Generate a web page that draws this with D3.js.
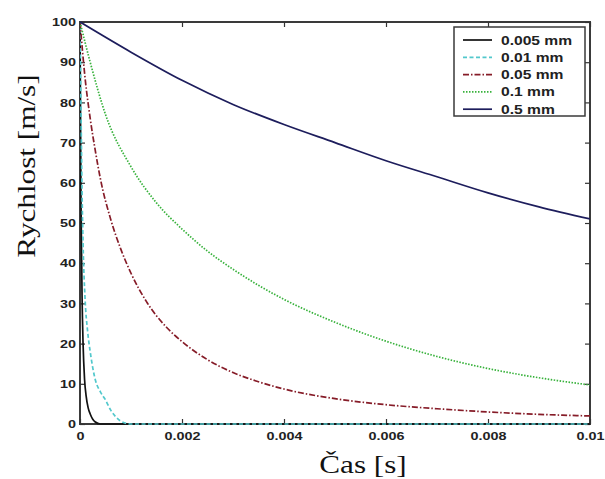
<!DOCTYPE html>
<html>
<head>
<meta charset="utf-8">
<script src="https://cdn.jsdelivr.net/npm/d3@7"></script>
<style>
  body { margin: 0; background: #fff; }
</style>
</head>
<body>
<div class="chart"></div>
<script>
// values
const seriesNames = ["0.005 mm", "0.01 mm", "0.05 mm", "0.1 mm", "0.5 mm"];

const tBlack = [0, 0.00002, 0.00004, 0.00006, 0.00009, 0.00012, 0.00016, 0.0002, 0.00025, 0.0003, 0.0004, 0.01];
const vBlack = [100, 55, 32, 20, 11, 7, 4, 2.5, 1.2, 0.5, 0, 0];

const tCyan = [0, 0.00002, 0.00004, 0.00006, 0.0001, 0.00015, 0.0002, 0.0003, 0.0004, 0.0005, 0.0006, 0.0007, 0.0008, 0.001, 0.01];
const vCyan = [100, 78, 58, 45, 31, 23, 18, 11, 8, 6, 3.5, 1.8, 0.7, 0, 0];

const tRed = [0, 0.0001, 0.0002, 0.0003, 0.0004, 0.0006, 0.0008, 0.001, 0.0013, 0.0017, 0.002, 0.0025, 0.003, 0.0035, 0.004, 0.005, 0.006, 0.007, 0.008, 0.009, 0.01];
const vRed = [100, 86, 76, 68, 61, 51, 43.5, 37.5, 30.5, 24, 20.5, 16, 12.8, 10.5, 8.7, 6.3, 4.8, 3.8, 3.0, 2.4, 2.0];

const tGreen = [0, 0.0002, 0.0005, 0.001, 0.0015, 0.002, 0.0025, 0.003, 0.0035, 0.004, 0.005, 0.006, 0.007, 0.008, 0.009, 0.01];
const vGreen = [100, 90, 77, 64, 55, 48.5, 43, 38.5, 34.5, 31, 25.3, 20.6, 16.8, 13.8, 11.5, 9.7];

const tBlue = [0, 0.001, 0.002, 0.003, 0.004, 0.005, 0.006, 0.007, 0.008, 0.009, 0.01];
const vBlue = [100, 92.5, 85.5, 79.5, 74.5, 70, 65.5, 61.5, 57.5, 54, 51];

const xTicks = [0, 0.002, 0.004, 0.006, 0.008, 0.01];
const xTickLabels = ["0", "0.002", "0.004", "0.006", "0.008", "0.01"];
const yTicks = [0, 10, 20, 30, 40, 50, 60, 70, 80, 90, 100];

const series = [
    { name: seriesNames[0], t: tBlack, v: vBlack, color: "#111111", dash: null },
    { name: seriesNames[1], t: tCyan, v: vCyan, color: "#52c8cc", dash: "4,2.5" },
    { name: seriesNames[2], t: tRed, v: vRed, color: "#861c28", dash: "6,2,1.5,2" },
    { name: seriesNames[3], t: tGreen, v: vGreen, color: "#38b23c", dash: "1.5,1.5" },
    { name: seriesNames[4], t: tBlue, v: vBlue, color: "#1d1d5c", dash: null }
];

const W = 605, H = 479;
const plot = { left: 80, right: 590, top: 22, bottom: 424 };
const stretch = 1.25; // the picture is a bit wider than tall

const svg = d3.select(".chart").append("svg")
    .attr("width", W)
    .attr("height", H);

const xScale = d3.scaleLinear().domain([0, 0.01]).range([plot.left, plot.right]);
const yScale = d3.scaleLinear().domain([0, 100]).range([plot.bottom, plot.top]);

// frame
svg.append("rect")
    .attr("x", plot.left)
    .attr("y", plot.top)
    .attr("width", plot.right - plot.left)
    .attr("height", plot.bottom - plot.top)
    .attr("fill", "none")
    .attr("stroke", "#3a3a3a")
    .attr("stroke-width", 2);

// axes, ticks pointing in
const xAxis = d3.axisBottom(xScale)
    .tickValues(xTicks)
    .tickFormat((d, i) => xTickLabels[i])
    .tickSizeInner(-5)
    .tickSizeOuter(0)
    .tickPadding(8);
const yAxis = d3.axisLeft(yScale)
    .tickValues(yTicks)
    .tickSizeInner(-5)
    .tickSizeOuter(0);

const gx = svg.append("g")
    .attr("transform", `translate(0,${plot.bottom})`)
    .call(xAxis);
const gy = svg.append("g")
    .attr("transform", `translate(${plot.left},0)`)
    .call(yAxis);

svg.append("g")
    .attr("transform", `translate(0,${plot.top})`)
    .call(d3.axisTop(xScale).tickValues(xTicks).tickFormat("").tickSizeInner(-5).tickSizeOuter(0));
svg.append("g")
    .attr("transform", `translate(${plot.right},0)`)
    .call(d3.axisRight(yScale).tickValues(yTicks).tickFormat("").tickSizeInner(-5).tickSizeOuter(0));

svg.selectAll(".domain").remove();
svg.selectAll(".tick line").attr("stroke", "#333").attr("stroke-width", 1.2);

gx.selectAll("text")
    .attr("font-family", "Liberation Sans, Arial, sans-serif")
    .attr("font-weight", "bold")
    .attr("font-size", 11.5)
    .attr("fill", "#222")
    .attr("transform", `scale(${stretch},1)`);

gy.selectAll("text")
    .attr("x", 0)
    .attr("font-family", "Liberation Sans, Arial, sans-serif")
    .attr("font-weight", "bold")
    .attr("font-size", 11.5)
    .attr("fill", "#222")
    .attr("transform", `translate(-4,0) scale(${stretch},1)`);

// curves, drawn over the frame so the zero tails show along the bottom
svg.append("clipPath").attr("id", "clip")
    .append("rect")
    .attr("x", plot.left).attr("y", plot.top - 2)
    .attr("width", plot.right - plot.left).attr("height", plot.bottom - plot.top + 4);

const line = d3.line()
    .x(d => xScale(d[0]))
    .y(d => yScale(d[1]))
    .curve(d3.curveMonotoneX);

svg.append("g")
    .attr("clip-path", "url(#clip)")
    .selectAll("path")
    .data(series)
    .enter()
    .append("path")
    .attr("d", s => line(s.t.map((t, i) => [t, s.v[i]])))
    .attr("fill", "none")
    .attr("stroke", s => s.color)
    .attr("stroke-width", 1.7)
    .attr("stroke-dasharray", s => s.dash);

// legend
const legend = svg.append("g").attr("class", "legend");
legend.append("rect")
    .attr("x", 454)
    .attr("y", 27)
    .attr("width", 131)
    .attr("height", 89)
    .attr("fill", "#fff")
    .attr("stroke", "#3a3a3a")
    .attr("stroke-width", 1.5);

legend.selectAll("line")
    .data(series)
    .enter()
    .append("line")
    .attr("x1", 463)
    .attr("x2", 492)
    .attr("y1", (d, i) => 40 + i * 17.3)
    .attr("y2", (d, i) => 40 + i * 17.3)
    .attr("stroke", s => s.color)
    .attr("stroke-width", 1.7)
    .attr("stroke-dasharray", s => s.dash);

legend.selectAll("text")
    .data(series)
    .enter()
    .append("text")
    .attr("transform", (d, i) => `translate(501,${44.5 + i * 17.3}) scale(${stretch},1)`)
    .attr("font-family", "Liberation Sans, Arial, sans-serif")
    .attr("font-weight", "bold")
    .attr("font-size", 12.5)
    .attr("fill", "#222")
    .text(s => s.name);

// axis titles
svg.append("text")
    .attr("transform", `translate(363,473) scale(1.2,1)`)
    .attr("text-anchor", "middle")
    .attr("font-family", "Liberation Serif, Times New Roman, serif")
    .attr("font-size", 26)
    .attr("fill", "#111")
    .text("Čas [s]");

svg.append("text")
    .attr("transform", "translate(35,166) rotate(-90) scale(1.2,1)")
    .attr("text-anchor", "middle")
    .attr("font-family", "Liberation Serif, Times New Roman, serif")
    .attr("font-size", 26)
    .attr("fill", "#111")
    .text("Rychlost [m/s]");
</script>
</body>
</html>
